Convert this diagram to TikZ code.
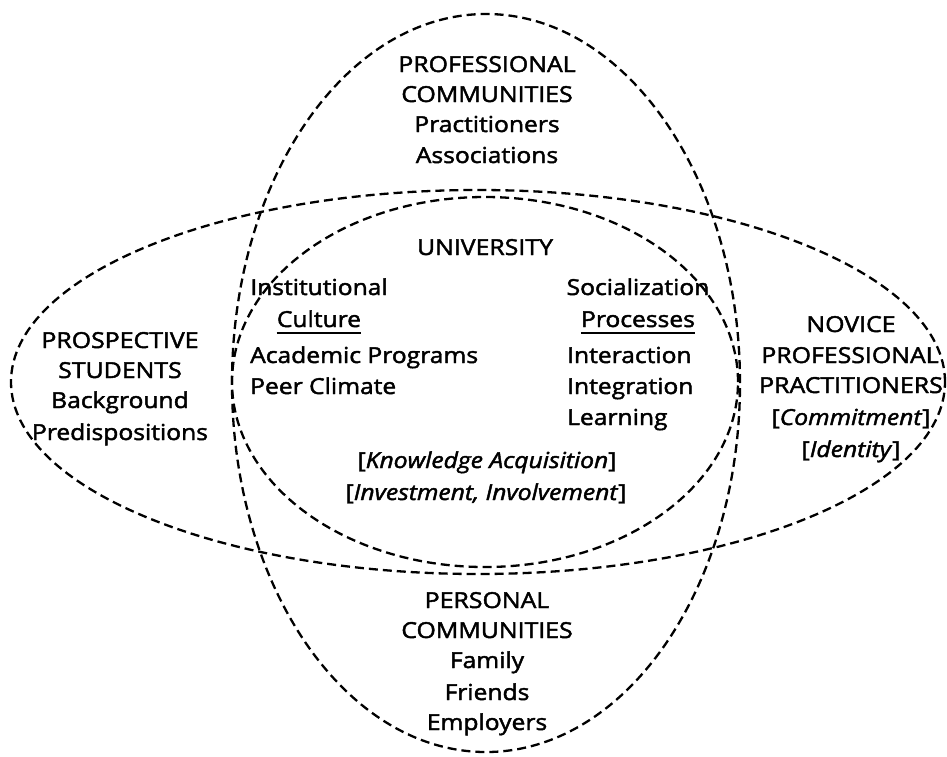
\documentclass[tikz,border=0pt]{standalone}
\usepackage{fontspec}
\setmainfont[FakeStretch=1.12,FakeBold=2]{Open Sans}
\newfontfamily\capfont[FakeStretch=1.13,FakeBold=2]{Open Sans}
\begin{document}
\begin{tikzpicture}[x=1pt,y=-1pt,
  venn/.style={line width=2.3pt, dash pattern=on 9pt off 5pt},
  lbl/.style={inner sep=0pt, anchor=base, font=\fontsize{22}{30}\selectfont},
  caps/.style={lbl, font=\capfont\fontsize{22}{30}\selectfont},
  lft/.style={lbl, anchor=base west},
  uline/.style={line width=1.8pt}]
\useasboundingbox (0,0) rectangle (947,756);
% ellipses
\draw[venn] (486,383) ellipse [x radius=254pt, y radius=369pt];
\draw[venn] (478,382) ellipse [x radius=467pt, y radius=192pt];
\draw[venn] (485,382) ellipse [x radius=253pt, y radius=185pt];
% professional communities
\node[caps] (pc1) at (487,72) {PROFESSIONAL};
\node[caps] (pc2) at (487,102) {COMMUNITIES};
\node[lbl]  (pc3) at (487,132) {Practitioners};
\node[lbl]  (pc4) at (487,163) {Associations};
% university
\node[caps] (u0) at (485,255) {UNIVERSITY};
\node[lbl] (ic1) at (319,295) {Institutional};
\node[lbl] (ic2) at (319,327) {Culture};
\node[lft] (ic3) at (250,363) {Academic Programs};
\node[lft] (ic4) at (250,394) {Peer Climate};
\node[lbl] (sp1) at (638,295) {Socialization};
\node[lbl] (sp2) at (638,327) {Processes};
\node[lft] (sp3) at (567,363) {Interaction};
\node[lft] (sp4) at (567,394) {Integration};
\node[lft] (sp5) at (567,425) {Learning};
\draw[uline] ([yshift=-6pt]ic2.base west) -- ([yshift=-6pt]ic2.base east);
\draw[uline] ([yshift=-6pt]sp2.base west) -- ([yshift=-6pt]sp2.base east);
\node[lbl] (k1) at (487,468) {[\textit{Knowledge Acquisition}]};
\node[lbl] (k2) at (486,500) {[\textit{Investment, Involvement}]};
% prospective students
\node[caps] (ps1) at (120,348) {PROSPECTIVE};
\node[caps] (ps2) at (120,378) {STUDENTS};
\node[lbl]  (ps3) at (120,408) {Background};
\node[lbl]  (ps4) at (120,440) {Predispositions};
% novice professional practitioners
\node[caps] (np1) at (851,332) {NOVICE};
\node[caps] (np2) at (850,363) {PROFESSIONAL};
\node[caps] (np3) at (851,393) {PRACTITIONERS};
\node[lbl]  (np4) at (851,425) {[\textit{Commitment}]};
\node[lbl]  (np5) at (851,457) {[\textit{Identity}]};
% personal communities
\node[caps] (pe1) at (487,608) {PERSONAL};
\node[caps] (pe2) at (487,638) {COMMUNITIES};
\node[lbl]  (pe3) at (487,668) {Family};
\node[lbl]  (pe4) at (487,700) {Friends};
\node[lbl]  (pe5) at (487,730) {Employers};
\end{tikzpicture}
\end{document}
